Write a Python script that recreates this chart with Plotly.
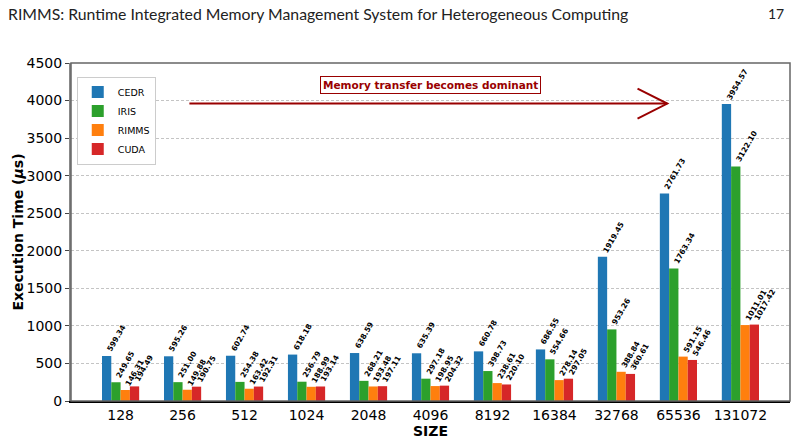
import plotly.graph_objects as go

SIZES = ["128", "256", "512", "1024", "2048", "4096", "8192", "16384", "32768", "65536", "131072"]
SERIES = ["CEDR", "IRIS", "RIMMS", "CUDA"]
CEDR = [599.34, 595.26, 602.74, 618.18, 638.59, 635.39, 660.78, 686.55, 1919.45, 2761.73, 3954.57]
IRIS = [249.65, 251.00, 254.38, 256.79, 268.21, 297.18, 398.73, 554.66, 953.26, 1763.34, 3122.10]
RIMMS = [146.31, 149.88, 163.42, 188.99, 193.48, 198.95, 238.61, 278.14, 388.84, 591.15, 1011.01]
CUDA = [194.49, 190.75, 192.31, 193.14, 197.11, 204.32, 220.10, 297.05, 360.61, 546.46, 1017.42]
Y_TICKS = [0, 500, 1000, 1500, 2000, 2500, 3000, 3500, 4000, 4500]

COLORS = ["#1f77b4", "#2ca02c", "#ff7f0e", "#d62728"]
ARROW_COLOR = "#990000"
BAR_WIDTH = 0.15

# arrow annotation (data coords)
ARROW_X0, ARROW_X1, ARROW_Y = 1.11, 8.82, 3960
HEAD_DX, HEAD_DY = 0.48, 200
NOTE_X, NOTE_Y = 5.0, 4210

fig = go.Figure()
idx = list(range(len(SIZES)))

for k, (name, vals) in enumerate(zip(SERIES, [CEDR, IRIS, RIMMS, CUDA])):
    xs = [i + (k - 1.5) * BAR_WIDTH for i in idx]
    fig.add_trace(go.Bar(x=xs, y=vals, width=BAR_WIDTH, name=name,
                         marker=dict(color=COLORS[k], line=dict(width=0))))
    for x, v in zip(xs, vals):
        fig.add_annotation(x=x - 0.07, y=v, text=f"{v:.2f}", showarrow=False,
                           textangle=-60, xanchor="left", yanchor="bottom",
                           font=dict(family="DejaVu Sans", size=7.5, color="black", weight="bold"))

# arrow: shaft + open head
fig.add_shape(type="line", x0=ARROW_X0, x1=ARROW_X1, y0=ARROW_Y, y1=ARROW_Y,
              line=dict(color=ARROW_COLOR, width=2))
fig.add_shape(type="path",
              path=f"M {ARROW_X1 - HEAD_DX} {ARROW_Y + HEAD_DY} L {ARROW_X1} {ARROW_Y} L {ARROW_X1 - HEAD_DX} {ARROW_Y - HEAD_DY}",
              line=dict(color=ARROW_COLOR, width=2))
fig.add_annotation(x=NOTE_X, y=NOTE_Y, text="<b>Memory transfer becomes dominant</b>", showarrow=False,
                   font=dict(family="DejaVu Sans", size=10.5, color=ARROW_COLOR),
                   bgcolor="white", bordercolor=ARROW_COLOR, borderwidth=1, borderpad=2)

# top/right frame in grey
fig.add_shape(type="rect", xref="paper", yref="paper", x0=0, x1=1, y0=0, y1=1,
              line=dict(color="#666666", width=1.5), layer="above")

# page header
fig.add_annotation(xref="paper", yref="paper", x=-0.09, y=1.0, yshift=50, xanchor="left", yanchor="middle",
                   text="RIMMS: Runtime Integrated Memory Management System for Heterogeneous Computing",
                   showarrow=False, font=dict(family="Lato", size=15.8, color="#222222"))
fig.add_annotation(xref="paper", yref="paper", x=0.995, y=1.0, yshift=50, xanchor="right", yanchor="middle",
                   text="17", showarrow=False, font=dict(family="Lato", size=14, color="#222222"))

fig.update_layout(
    width=800, height=442,
    margin=dict(l=71, r=10, t=63, b=41),
    paper_bgcolor="white", plot_bgcolor="white",
    font=dict(family="DejaVu Sans", color="black"),
    barmode="overlay",
    showlegend=True,
    legend=dict(x=0.008, y=0.96, xanchor="left", yanchor="top",
                bordercolor="#cccccc", borderwidth=1, bgcolor="white",
                font=dict(size=9.5), tracegroupgap=0, itemwidth=30),
    xaxis=dict(range=[-0.8, 10.8], tickvals=idx, ticktext=SIZES, showgrid=False, automargin=False,
               showline=True, linecolor="black", linewidth=1.5, ticks="", zeroline=False,
               tickfont=dict(size=14),
               title=dict(text="<b>SIZE</b>", font=dict(size=14), standoff=2)),
    yaxis=dict(range=[0, 4500], tickvals=Y_TICKS, showgrid=True, gridcolor="#c4c4c4", automargin=False,
               griddash="3px,2px", gridwidth=1, showline=True, linecolor="#888888", linewidth=2,
               ticks="outside", ticklen=4, tickcolor="#444444", zeroline=False,
               tickfont=dict(size=14),
               title=dict(text="<b>Execution Time (<i>μ</i>s)</b>", font=dict(size=14), standoff=0)),
)

# the page's default body margin would shift the figure by 8px
fig.write_html("out.html", config={"displayModeBar": False},
               post_script="document.body.style.margin = '0';")
